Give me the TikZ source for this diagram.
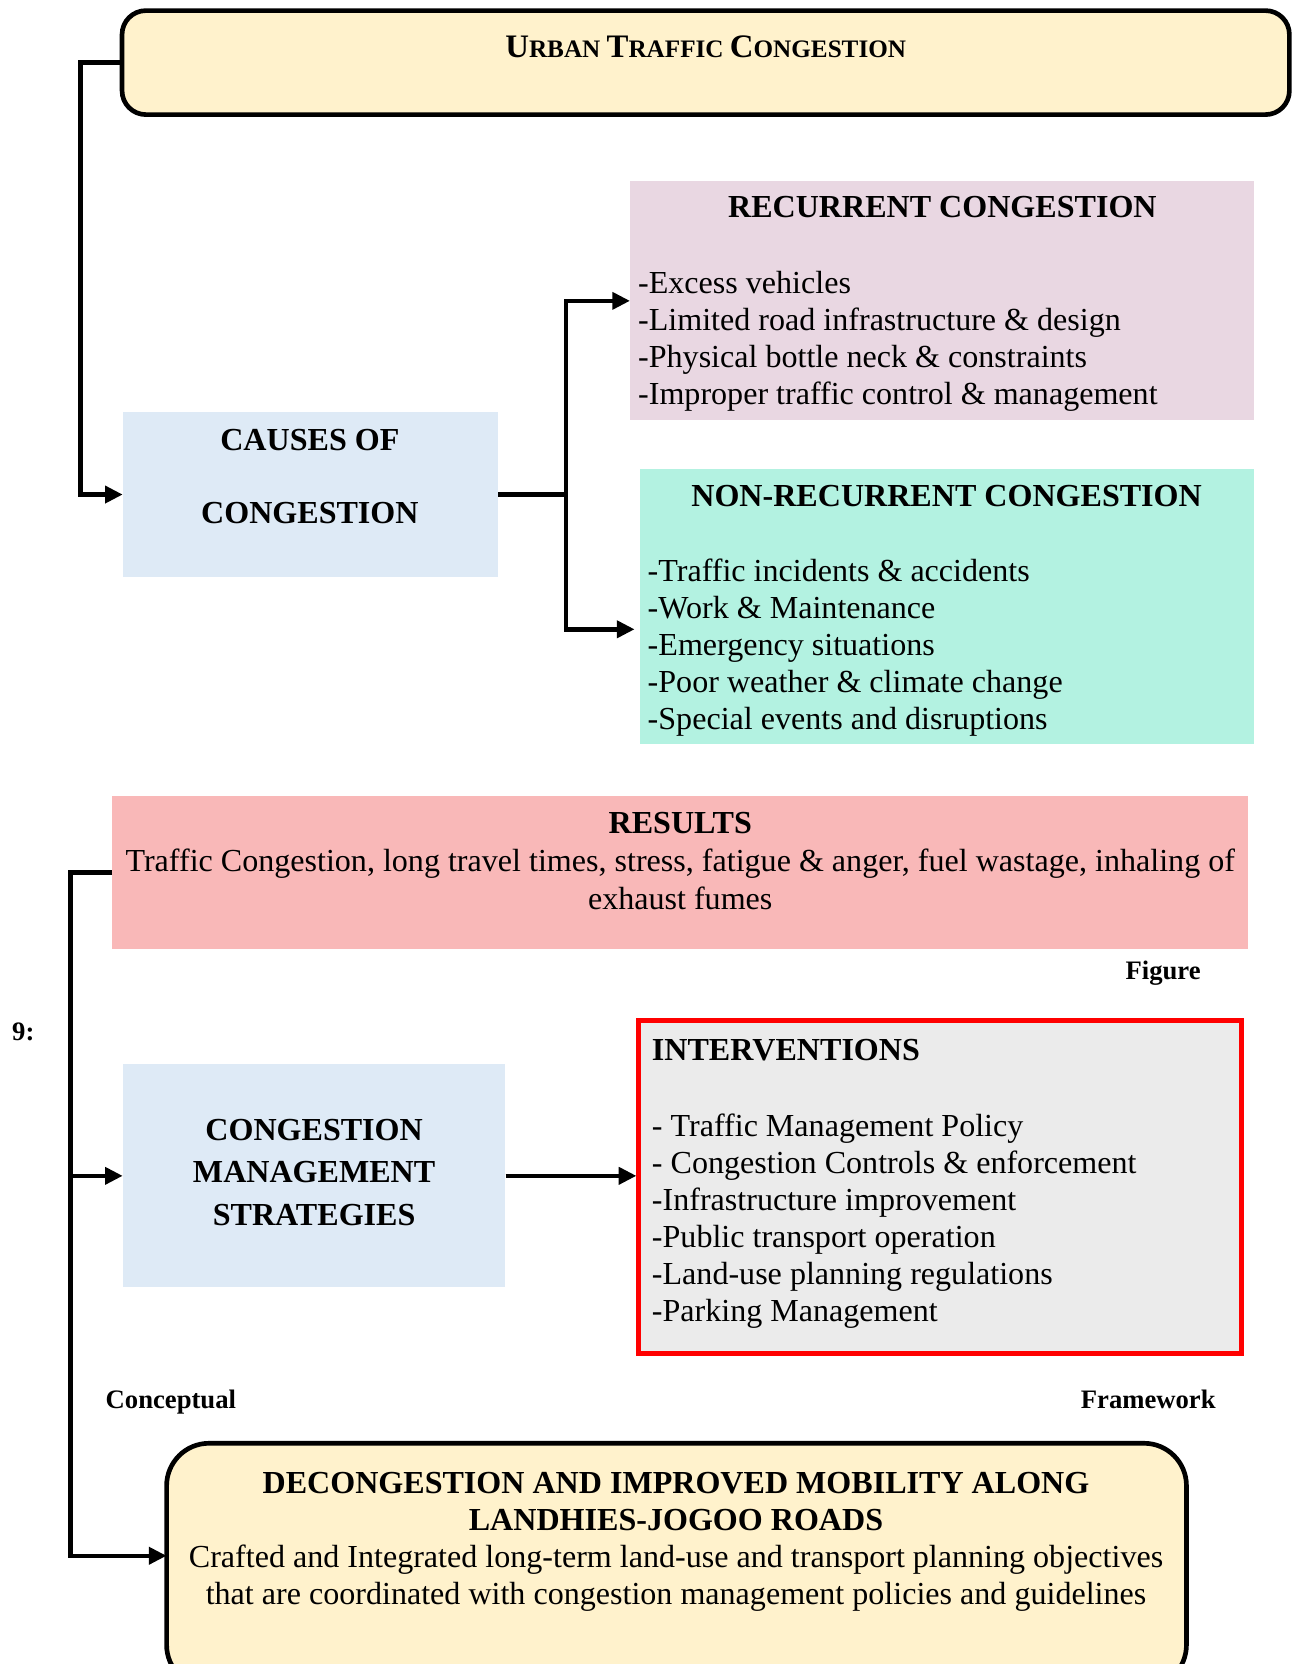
\documentclass[tikz,border=0pt]{standalone}
\usepackage{fontspec}
\setmainfont{Liberation Serif}
\usetikzlibrary{arrows.meta,fit}

\definecolor{creamfill}{HTML}{FFF2CC}
\definecolor{bluefill}{HTML}{DEEAF6}
\definecolor{mauvefill}{HTML}{E9D7E2}
\definecolor{mintfill}{HTML}{B3F2E1}
\definecolor{pinkfill}{HTML}{F9B8B8}
\definecolor{greyfill}{HTML}{EBEBEB}
\definecolor{alertred}{HTML}{FF0000}

\newcommand{\bodyfont}{\fontsize{17.2}{19.9}\selectfont}
\newcommand{\tagfont}{\fontsize{14.3}{16}\selectfont\bfseries}

\begin{document}
\begin{tikzpicture}[x=0.02cm,y=-0.02cm,
  every node/.style={inner sep=0pt,font=\bodyfont},
  box/.style={inner sep=0pt,draw=none},
  conn/.style={line width=2.4pt},
  arr/.style={conn,-{Triangle[length=9.5pt,width=9pt]}}]
  \useasboundingbox (0,0) rectangle (1220,1568);

  % boxes
  \node[box,fit={(115,10) (1215,108)},fill=creamfill,draw=black,line width=2.5pt,rounded corners=0.45cm] (top) {};
  \node[box,fit={(116,388) (469,544)},fill=bluefill] (causes) {};
  \node[box,fit={(594,171) (1182,396)},fill=mauvefill] (rec) {};
  \node[box,fit={(603,442) (1182,701)},fill=mintfill] (nonrec) {};
  \node[box,fit={(106,750) (1176,894)},fill=pinkfill] (results) {};
  \node[box,fit={(116,1003) (476,1213)},fill=bluefill] (cms) {};
  \node[box,fit={(602,962) (1170,1275)},fill=greyfill,draw=alertred,line width=2.6pt] (int) {};
  \node[box,fit={(157,1360) (1118,1590)},fill=creamfill,draw=black,line width=2.5pt,rounded corners=0.8cm] (goal) {};

  % texts
  \node[anchor=base] (toptxt) at (665,54) {\bfseries{\fontsize{17.6}{20}\selectfont U}{\fontsize{13.5}{16}\selectfont RBAN }{\fontsize{17.6}{20}\selectfont T}{\fontsize{13.5}{16}\selectfont RAFFIC }{\fontsize{17.6}{20}\selectfont C}{\fontsize{13.5}{16}\selectfont ONGESTION}};
  \node[anchor=north,align=center,font=\bodyfont\bfseries] (causestxt) at (292,404) {CAUSES OF\\[19.2pt]CONGESTION};
  \node[anchor=base,font=\bodyfont\bfseries] (rectitle) at (888,205) {RECURRENT CONGESTION};
  \node[anchor=north west,align=left] (recitems) at (601,255) {-Excess vehicles\\-Limited road infrastructure \& design\\-Physical bottle neck \& constraints\\-Improper traffic control \& management};
  \node[anchor=base,font=\bodyfont\bfseries] (nrtitle) at (892,477) {NON-RECURRENT CONGESTION};
  \node[anchor=north west,align=left] (nritems) at (610,526) {-Traffic incidents \& accidents\\-Work \& Maintenance\\-Emergency situations\\-Poor weather \& climate change\\-Special events and disruptions};
  \node[anchor=base,font=\bodyfont\bfseries] (restitle) at (641,785) {RESULTS};
  \node[anchor=north,align=center] (restxt) at (641,800) {Traffic Congestion, long travel times, stress, fatigue \& anger, fuel wastage, inhaling of\\exhaust fumes};
  \node[anchor=north,align=center,font=\bodyfont\bfseries] (cmstxt) at (296,1054) {CONGESTION\\[3pt]MANAGEMENT\\[3pt]STRATEGIES};
  \node[anchor=base west,font=\bodyfont\bfseries] (inttitle) at (614,999) {INTERVENTIONS};
  \node[anchor=north west,align=left] (intitems) at (614,1049) {- Traffic Management Policy\\- Congestion Controls \& enforcement\\-Infrastructure improvement\\-Public transport operation\\-Land-use planning regulations\\-Parking Management};
  \node[anchor=north,align=center] (goaltxt) at (637,1387) {\textbf{DECONGESTION AND IMPROVED MOBILITY ALONG}\\\textbf{LANDHIES-JOGOO ROADS}\\Crafted and Integrated long-term land-use and transport planning objectives\\that are coordinated with congestion management policies and guidelines};

  % caption pieces
  \node[anchor=base,font=\tagfont] (fig) at (1096,923) {Figure};
  \node[anchor=base,font=\tagfont] (num) at (22,980) {9:};
  \node[anchor=base,font=\tagfont] (concept) at (161,1327) {Conceptual};
  \node[anchor=base,font=\tagfont] (frame) at (1082,1327) {Framework};

  % connectors
  \coordinate (nrin) at (598,593);
  \coordinate (goalin) at (157,1466);
  \draw[arr] (top.west) -- ++(-37,0) |- (causes.west);
  \draw[conn] (causes.east) -- ++(64,0) coordinate (split);
  \draw[arr] (split) |- (rec.west);
  \draw[arr] (split) |- (nrin);
  \draw[arr] (results.west) -- ++(-39,0) coordinate (lft) |- (goalin);
  \draw[arr] (lft |- cms.west) -- (cms.west);
  \draw[arr] (cms.east) -- (cms.east -| int.west);
\end{tikzpicture}
\end{document}
